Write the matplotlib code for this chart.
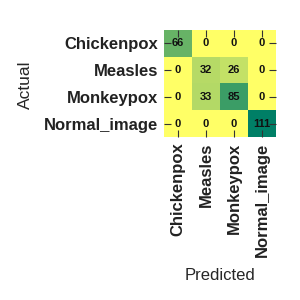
import matplotlib
matplotlib.use("Agg")
import matplotlib.pyplot as plt
import numpy as np

labels = ["Chickenpox", "Measles", "Monkeypox", "Normal_image"]
cm = np.array([
    [66, 0, 0, 0],
    [0, 32, 26, 0],
    [0, 33, 85, 0],
    [0, 0, 0, 111],
])

plt.rcParams['font.family'] = ['Liberation Sans', 'DejaVu Sans']
fig = plt.figure(figsize=(3, 3), dpi=100)
ax = fig.add_axes([164/300, 1-137/300, 112/300, 107/300])
ax.imshow(cm, cmap='summer_r', aspect='auto', vmin=0, vmax=cm.max())
for i in range(cm.shape[0]):
    for j in range(cm.shape[1]):
        ax.text(j, i, str(cm[i, j]), ha='center', va='center', fontsize=8, fontweight='bold', color='#111111')
ax.set_xticks(range(len(labels)))
ax.set_yticks(range(len(labels)))
ax.set_xticklabels(labels, rotation=90, fontsize=12, fontweight='bold', color='#222222')
ax.set_yticklabels(labels, fontsize=12, fontweight='bold', color='#222222')
ax.tick_params(direction='in', length=5, width=0.8, color='#333333', top=True, right=True, pad=4)
for s in ax.spines.values():
    s.set_visible(False)
ax.set_xlabel('Predicted', fontsize=12, color='#262626', labelpad=8)
ax.set_ylabel('Actual', fontsize=12.5, color='#262626')
ax.yaxis.set_label_coords(-1.17, 0.49)
fig.savefig('out.png', dpi=100)
